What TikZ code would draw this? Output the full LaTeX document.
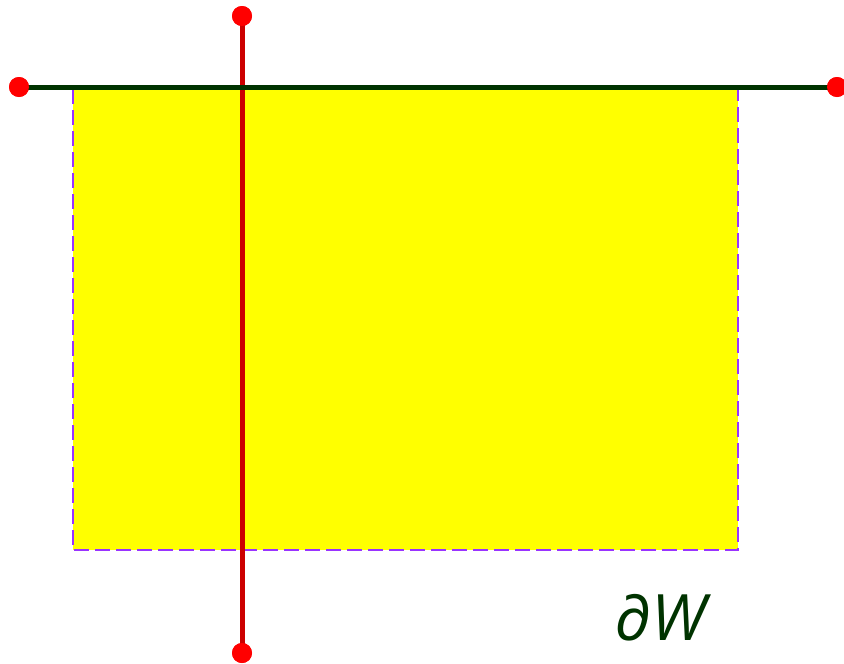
\documentclass[tikz,border=0pt]{standalone}
\usepackage{fontspec}
\newfontfamily\labelfont{Open Sans}
\definecolor{darkgreen}{RGB}{0,51,0}
\definecolor{redline}{RGB}{204,0,0}
\definecolor{dotred}{RGB}{255,0,0}
\definecolor{purpledash}{RGB}{153,51,255}
\definecolor{fillyellow}{RGB}{255,255,0}
\begin{document}
\begin{tikzpicture}[x=1pt,y=-1pt,
  region/.style={fill=fillyellow,draw=purpledash,line width=1.6pt,dash pattern=on 15pt off 6pt},
  hline/.style={draw=darkgreen,line width=5pt},
  vline/.style={draw=redline,line width=5pt},
  enddot/.style={circle,fill=dotred,inner sep=0pt,minimum size=20pt}]
\useasboundingbox (0,0) rectangle (844,664);
\path[region] (73,89) rectangle (738,550);
\node[enddot] (t) at (242,16) {};
\node[enddot] (b) at (242,653) {};
\node[enddot] (l) at (19,87) {};
\node[enddot] (r) at (837,87) {};
\draw[vline] (t.center) -- (b.center);
\draw[hline] (l.center) -- (r.center);
\node[enddot] at (242,16) {};
\node[enddot] at (242,653) {};
\node[enddot] at (19,87) {};
\node[enddot] at (837,87) {};
\node[text=darkgreen,font=\labelfont\itshape\fontsize{64}{66}\selectfont] (lbl) at (660,618) {∂W};
\end{tikzpicture}
\end{document}
